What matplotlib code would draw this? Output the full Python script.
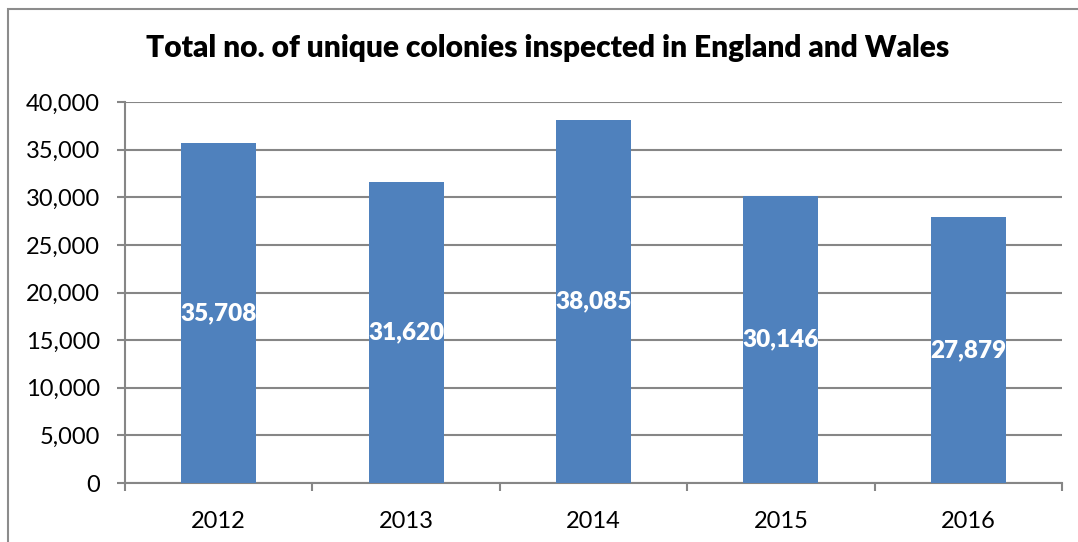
import matplotlib.pyplot as plt
from matplotlib.patches import Rectangle
from matplotlib.ticker import FuncFormatter, FixedLocator, NullFormatter

years = ["2012", "2013", "2014", "2015", "2016"]
colonies = [35708, 31620, 38085, 30146, 27879]

plt.rcParams['font.family'] = ['Lato', 'DejaVu Sans']

W, H = 1078, 542
fig = plt.figure(figsize=(W / 100, H / 100), dpi=100)
ax = fig.add_axes([125 / W, 1 - 483 / H, (1062 - 125) / W, (483 - 102) / H])

# outer chart frame (cropped on right and bottom)
fig.patches.append(Rectangle((8 / W, -0.1), 1.2, 1 - 9 / H + 0.1, transform=fig.transFigure,
                             fill=False, edgecolor='#8c8c8c', linewidth=1.5))

x = list(range(len(years)))
bars = ax.bar(x, colonies, width=0.4, color='#4f81bd', zorder=3)
for xi, v in zip(x, colonies):
    ax.text(xi, v / 2, f"{v:,}", ha='center', va='center', color='white',
            fontsize=17.5, fontweight='heavy', zorder=4)

ax.set_xlim(-0.5, len(years) - 0.5)
ax.set_ylim(0, 40000)
ax.set_yticks(range(0, 40001, 5000))
ax.yaxis.set_major_formatter(FuncFormatter(lambda v, p: f"{int(v):,}"))
ax.grid(axis='y', color='#868686', linewidth=1.5, zorder=0)

ax.set_xticks(x)
ax.set_xticklabels(years)
ax.xaxis.set_minor_locator(FixedLocator([i - 0.5 for i in range(len(years) + 1)]))
ax.xaxis.set_minor_formatter(NullFormatter())
ax.tick_params(axis='x', which='major', length=0, pad=20, labelsize=17)
ax.tick_params(axis='x', which='minor', length=6, width=1.5, color='#868686')
ax.tick_params(axis='y', length=6, width=1.5, color='#868686', labelsize=17, pad=12)

for s in ['top', 'right']:
    ax.spines[s].set_visible(False)
for s in ['left', 'bottom']:
    ax.spines[s].set_color('#868686')
    ax.spines[s].set_linewidth(1.5)

fig.text(548 / W, 1 - 48 / H, "Total no. of unique colonies inspected in England and Wales",
         ha='center', va='center', fontsize=21.5, fontweight='heavy')

fig.savefig("out.png", dpi=100)
